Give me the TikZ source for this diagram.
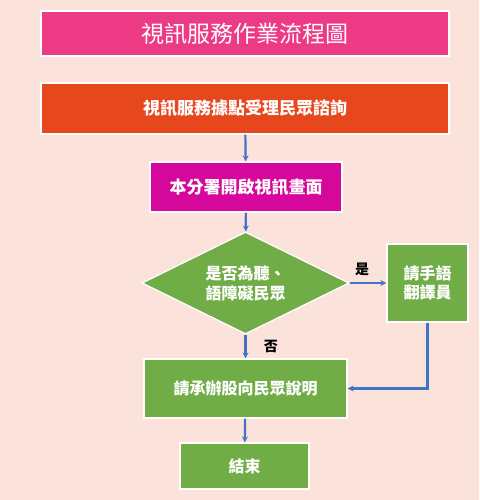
\documentclass[tikz,border=0pt]{standalone}
\usepackage{fontspec}
\newfontfamily\cjk{Noto Sans CJK TC}
\usepackage{tikz}
\usetikzlibrary{arrows.meta,positioning,shapes.geometric}
\definecolor{bgpink}{HTML}{FBE3DC}
\definecolor{titlepink}{HTML}{EC3A84}
\definecolor{askred}{HTML}{E6471C}
\definecolor{openmag}{HTML}{D5089B}
\definecolor{stepgreen}{HTML}{70AD47}
\definecolor{arrblue}{HTML}{4472C4}
\tikzset{
  box/.style={draw=white,line width=1.2pt,inner sep=2pt,align=center,text=white,font=\cjk\bfseries\fontsize{16}{20}\selectfont},
  titlebox/.style={box,fill=titlepink,minimum width=408pt,minimum height=45pt,font=\cjk\fontsize{23}{26}\selectfont},
  askbox/.style={box,fill=askred,minimum width=408pt,minimum height=51pt,font=\cjk\bfseries\fontsize{17}{20}\selectfont},
  openbox/.style={box,fill=openmag,minimum width=192pt,minimum height=50pt,font=\cjk\bfseries\fontsize{17}{20}\selectfont},
  greenbox/.style={box,fill=stepgreen},
  decbox/.style={box,diamond,fill=stepgreen,aspect=2.03,inner sep=0pt,minimum width=207pt,minimum height=102pt},
  arr/.style={-{Stealth[length=6pt,width=6pt]},line width=2.2pt,draw=arrblue},
  yesno/.style={font=\cjk\bfseries\fontsize{14}{16}\selectfont,text=black}
}
\begin{document}
\begin{tikzpicture}[x=1pt,y=-1pt]
\fill[bgpink] (0,0) rectangle (479,500);
\useasboundingbox (0,0) rectangle (479,500);
\node[titlebox] (title) at (245,33.5) {視訊服務作業流程圖};
\node[askbox] (ask) at (245,108.5) {視訊服務據點受理民眾諮詢};
\node[openbox] (open) at (246,187) {本分署開啟視訊畫面};
\node[decbox] (dec) at (245.5,283) {是否為聽、\\語障礙民眾};
\node[greenbox,minimum width=81pt,minimum height=78pt,font=\cjk\bfseries\fontsize{16}{19}\selectfont] (sign) at (427.5,283) {請手語\\翻譯員};
\node[greenbox,minimum width=203pt,minimum height=59pt] (expl) at (245.5,388.5) {請承辦股向民眾說明};
\node[greenbox,minimum width=129pt,minimum height=46pt] (fin) at (244.5,466) {結束};
\draw[arr] (ask) -- (open);
\draw[arr] (open) -- (dec);
\draw[arr] (dec) -- node[yesno,above=3pt,xshift=-6pt] {是} (sign);
\draw[arr] (dec) -- node[yesno,right=14pt] {否} (expl);
\draw[arr] (sign.south) |- (expl.east);
\draw[arr] (expl) -- (fin);
\end{tikzpicture}
\end{document}
